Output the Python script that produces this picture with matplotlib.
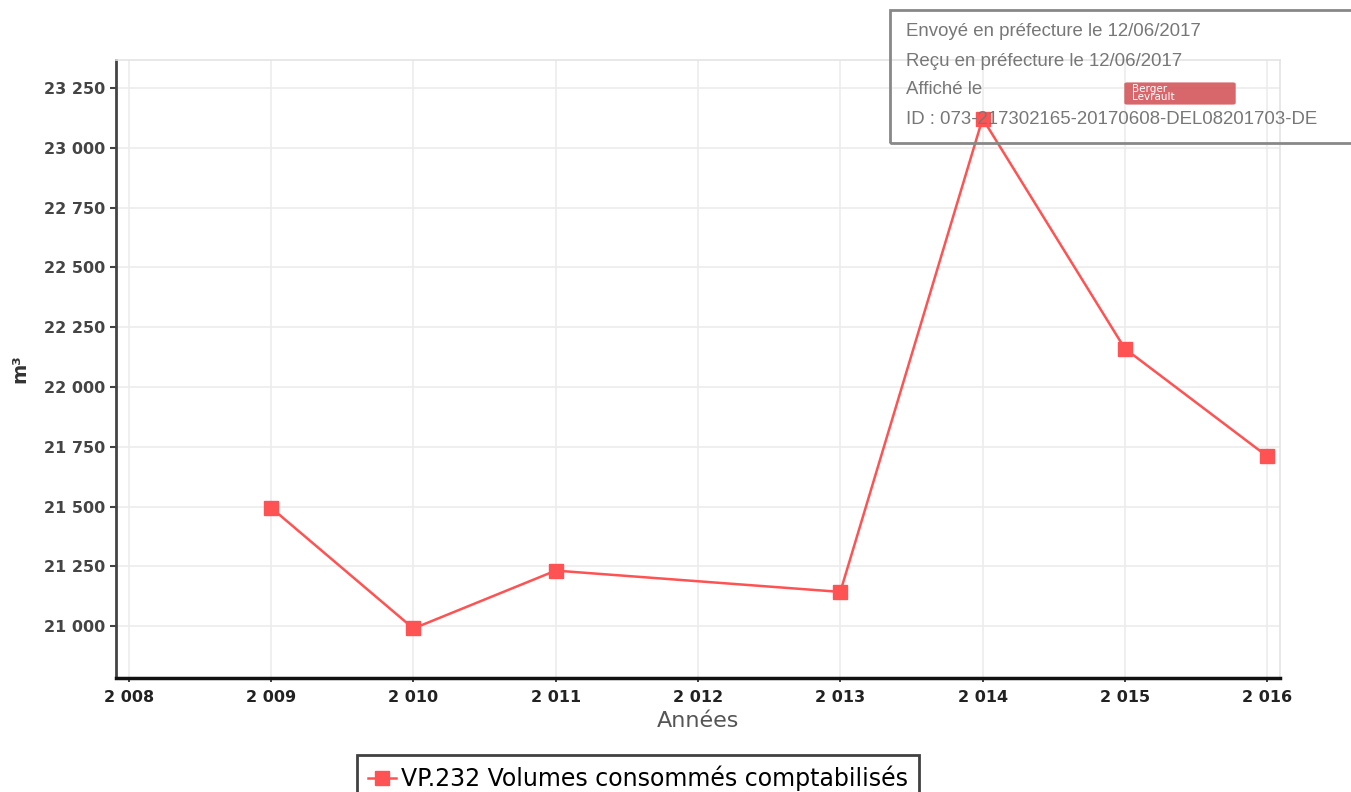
import matplotlib
matplotlib.use("Agg")
import matplotlib.pyplot as plt
from matplotlib.ticker import FuncFormatter, MultipleLocator
from matplotlib.patches import Rectangle, FancyBboxPatch

# Données
annees = [2009, 2010, 2011, 2013, 2014, 2015, 2016]
volumes = [21495, 20990, 21232, 21143, 23122, 22160, 21710]
serie_label = "VP.232 Volumes consommés comptabilisés"
tampon_lignes = [
    "Envoyé en préfecture le 12/06/2017",
    "Reçu en préfecture le 12/06/2017",
    "Affiché le",
    "ID : 073-217302165-20170608-DEL08201703-DE",
]

W, H = 1351, 792
fig = plt.figure(figsize=(W / 100, H / 100), dpi=100)
fig.patch.set_facecolor("white")

# axes placés au pixel près
ax = fig.add_axes([116 / W, 1 - 678 / H, (1280 - 116) / W, (678 - 60) / H])

rouge = "#ff5252"
ax.plot(annees, volumes, color=rouge, lw=1.8, marker="s", markersize=9.5,
        markerfacecolor=rouge, markeredgecolor=rouge, label=serie_label, zorder=3)

ax.set_xlim(2007.91, 2016.09)
ax.set_ylim(20783, 23367)
ax.xaxis.set_major_locator(MultipleLocator(1))
ax.yaxis.set_major_locator(MultipleLocator(250))

# séparateur de milliers = espace
fmt = FuncFormatter(lambda v, p: f"{v:,.0f}".replace(",", " "))
ax.xaxis.set_major_formatter(fmt)
ax.yaxis.set_major_formatter(fmt)

ax.grid(True, color="#ececec", lw=1.2, zorder=0)
for s in ["top", "right"]:
    ax.spines[s].set_color("#e4e4e4")
    ax.spines[s].set_linewidth(1.2)
ax.spines["left"].set_color("#444444")
ax.spines["left"].set_linewidth(2)
ax.spines["bottom"].set_color("#111111")
ax.spines["bottom"].set_linewidth(2.5)

ax.tick_params(axis="y", length=4, width=1.5, color="#444444", pad=4,
               labelsize=11.5, labelcolor="#444444")
ax.tick_params(axis="x", length=3, width=1.2, color="#222222", pad=6,
               labelsize=11.5, labelcolor="#222222")
for t in ax.get_xticklabels() + ax.get_yticklabels():
    t.set_fontweight("bold")

ax.set_xlabel("Années", fontsize=16, color="#555555", labelpad=4)
ax.set_ylabel("m³", fontsize=14, color="#333333", fontweight="bold", labelpad=10)

# légende en bas, coupée par le bord de l'image
leg = fig.legend(loc="upper center", bbox_to_anchor=(638 / W, 1 - 755 / H),
                 fontsize=17, frameon=True, fancybox=False, handlelength=1.2,
                 handletextpad=0.2, borderpad=0.45, borderaxespad=0)
leg.get_frame().set_edgecolor("#111111")
leg.get_frame().set_linewidth(2)

# tampon de la préfecture (en haut à droite)
fig.patches.append(Rectangle((890 / W, 1 - 143 / H), (1360 - 890) / W, (143 - 10) / H,
                             transform=fig.transFigure, fill=False,
                             edgecolor="#888888", lw=2, zorder=5))
for i, ligne in enumerate(tampon_lignes):
    fig.text(906 / W, 1 - (32 + 29 * i) / H, ligne, fontsize=13.4,
             family="Liberation Sans", color="#777777", va="center", ha="left", zorder=6)
fig.patches.append(FancyBboxPatch((1127 / W, 1 - 103 / H), 106 / W, 19 / H,
                                  boxstyle="round,pad=0.002", transform=fig.transFigure,
                                  facecolor="#d4565c", edgecolor="none", alpha=0.9, zorder=5))
fig.text(1132 / W, 1 - 93 / H, "Berger\nLevrault", fontsize=7.5, linespacing=0.75,
         color="white", va="center", ha="left", zorder=6)

fig.savefig("out.png", dpi=100, facecolor="white")
